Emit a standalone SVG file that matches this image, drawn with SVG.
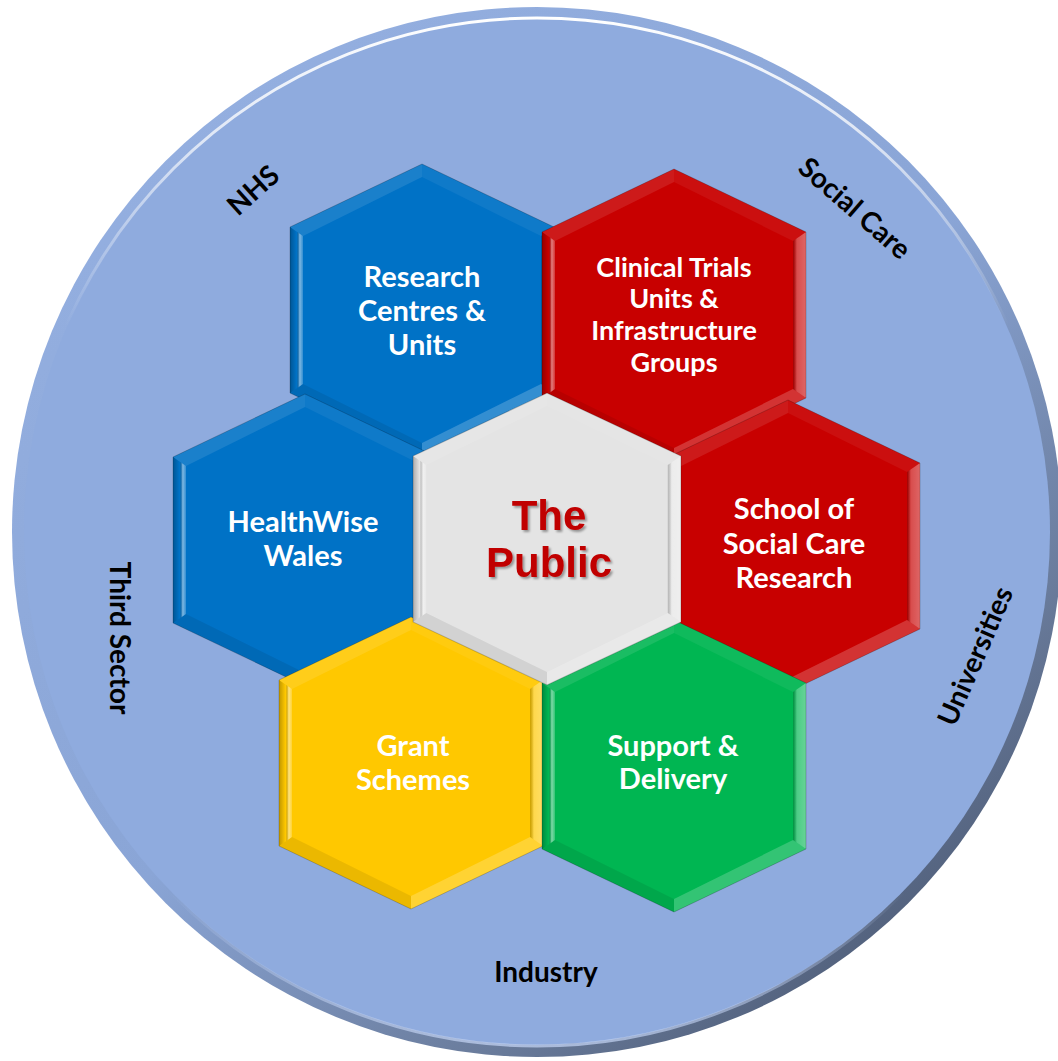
<svg xmlns="http://www.w3.org/2000/svg" xmlns:xlink="http://www.w3.org/1999/xlink" width="1058" height="1061" viewBox="0 0 1058 1061">
<style>
.lbl{font-family:Lato,"Open Sans","Liberation Sans",sans-serif;font-weight:700;fill:#ffffff;text-anchor:middle;font-size:29px}
.lbl2{font-size:27px}
.pub{font-family:"Liberation Sans",Arial,sans-serif;font-weight:700;fill:#C00000;text-anchor:middle;font-size:42px}
.out{font-family:Lato,"Open Sans","Liberation Sans",sans-serif;font-weight:700;fill:#000000;text-anchor:middle;font-size:28px}
</style>
<defs>
<linearGradient id="rim" x1="0.15" y1="0.1" x2="0.85" y2="0.95">
<stop offset="0" stop-color="#94AFE0"/>
<stop offset="0.5" stop-color="#8AA5D6"/>
<stop offset="0.8" stop-color="#6A7C9C"/>
<stop offset="1" stop-color="#4A5872"/>
</linearGradient>
<linearGradient id="hl" x1="0.5" y1="0" x2="0.5" y2="1">
<stop offset="0" stop-color="#ffffff" stop-opacity="1"/>
<stop offset="0.12" stop-color="#ffffff" stop-opacity="0.7"/>
<stop offset="0.3" stop-color="#ffffff" stop-opacity="0"/>
<stop offset="0.85" stop-color="#C8D8F8" stop-opacity="0"/>
<stop offset="1" stop-color="#C8D8F8" stop-opacity="0.7"/>
</linearGradient>
<linearGradient id="gL" x1="0" y1="0" x2="1" y2="0">
<stop offset="0" stop-color="#000" stop-opacity="0.25"/>
<stop offset="0.5" stop-color="#000" stop-opacity="0"/>
<stop offset="0.75" stop-color="#fff" stop-opacity="0.5"/>
<stop offset="1" stop-color="#fff" stop-opacity="0.2"/>
</linearGradient>
<linearGradient id="gR" x1="0" y1="0" x2="1" y2="0">
<stop offset="0" stop-color="#000" stop-opacity="0.2"/>
<stop offset="0.3" stop-color="#fff" stop-opacity="0.3"/>
<stop offset="1" stop-color="#fff" stop-opacity="0.4"/>
</linearGradient>
<filter id="sh" x="-20%" y="-20%" width="140%" height="140%">
<feDropShadow dx="2" dy="2" stdDeviation="1.2" flood-color="#000" flood-opacity="0.35"/>
</filter>
<path id="hx" d="M0,-146 L132,-83 L132,83 L0,146 L-132,83 L-132,-83 Z"/>
<g id="bev">
<path d="M0,-146 L0,-133 L-119,-74 L-132,-83 Z" fill="#fff" fill-opacity="0.1"/>
<path d="M0,-146 L132,-83 L119,-74 L0,-133 Z" fill="#fff" fill-opacity="0.06"/>
<path d="M132,-83 L132,83 L119,74 L119,-74 Z" fill="url(#gR)"/>
<path d="M132,83 L0,146 L0,133 L119,74 Z" fill="#fff" fill-opacity="0.2"/>
<path d="M0,146 L-132,83 L-119,74 L0,133 Z" fill="#000" fill-opacity="0.08"/>
<path d="M-132,83 L-132,-83 L-119,-74 L-119,74 Z" fill="url(#gL)"/>
<path d="M0,-146 L132,-83 L132,83 L0,146 L-132,83 L-132,-83 Z" fill="none" stroke="#000" stroke-opacity="0.2" stroke-width="1"/>
</g>
</defs>

<g id="background">
<circle cx="537" cy="532" r="525" fill="url(#rim)"/>
<circle cx="537" cy="532" r="513" fill="#8FABDE"/>
<circle cx="537" cy="532" r="514" fill="none" stroke="url(#hl)" stroke-width="3"/>
</g>

<g id="connectors"/>

<g id="node-research" transform="translate(422,310)">
<use xlink:href="#hx" fill="#0072C6"/>
<use xlink:href="#bev"/>
<text class="lbl" x="0" y="-23">Research</text>
<text class="lbl" x="0" y="11">Centres &amp;</text>
<text class="lbl" x="0" y="45">Units</text>
</g>

<g id="node-clinical" transform="translate(674,315)">
<use xlink:href="#hx" fill="#C80000"/>
<use xlink:href="#bev"/>
<text class="lbl lbl2" x="0" y="-38">Clinical Trials</text>
<text class="lbl lbl2" x="0" y="-7">Units &amp;</text>
<text class="lbl lbl2" x="0" y="25">Infrastructure</text>
<text class="lbl lbl2" x="0" y="57">Groups</text>
</g>

<g id="node-healthwise" transform="translate(305,540)">
<use xlink:href="#hx" fill="#0072C6"/>
<use xlink:href="#bev"/>
<text class="lbl" x="-2" y="-8">HealthWise</text>
<text class="lbl" x="-2" y="26">Wales</text>
</g>

<g id="node-school" transform="translate(788,546)">
<use xlink:href="#hx" fill="#C80000"/>
<use xlink:href="#bev"/>
<text class="lbl" x="6" y="-27">School of</text>
<text class="lbl" x="6" y="8">Social Care</text>
<text class="lbl" x="6" y="42">Research</text>
</g>

<g id="node-grant" transform="translate(411,763)">
<use xlink:href="#hx" fill="#FFC800"/>
<use xlink:href="#bev"/>
<text class="lbl" x="2" y="-7">Grant</text>
<text class="lbl" x="2" y="27">Schemes</text>
</g>

<g id="node-support" transform="translate(674,766)">
<use xlink:href="#hx" fill="#00B652"/>
<use xlink:href="#bev"/>
<text class="lbl" x="-1" y="-10">Support &amp;</text>
<text class="lbl" x="-1" y="23">Delivery</text>
</g>

<g id="node-public" transform="translate(547,539)">
<use xlink:href="#hx" fill="#E4E4E4" transform="scale(1.015,1)"/>
<use xlink:href="#bev" transform="scale(1.015,1)"/>
<g filter="url(#sh)">
<text class="pub" x="2" y="-9">The</text>
<text class="pub" x="2" y="38">Public</text>
</g>
</g>

<g id="sector-labels">
<text class="out" transform="translate(253,190) rotate(-42)" y="10">NHS</text>
<text class="out" transform="translate(855,208) rotate(41)" y="10">Social Care</text>
<text class="out" transform="translate(120,638) rotate(90)" y="10">Third Sector</text>
<text class="out" transform="translate(975,656) rotate(-66.5)" y="10">Universities</text>
<text class="out" x="546" y="982">Industry</text>
</g>
</svg>
